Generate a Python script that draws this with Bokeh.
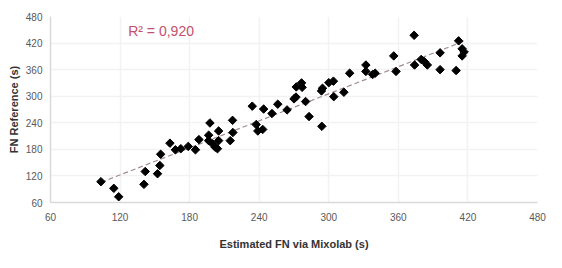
import numpy as np
from bokeh.plotting import figure
from bokeh.models import Range1d, FixedTicker, Label
from bokeh.embed import file_html
from bokeh.resources import INLINE

# Estimated FN via Mixolab (s)
est_fn = [103.5, 114.6, 118.8, 140.6, 141.7, 152.3, 154.3, 155, 163, 167.7,
          172.4, 178.8, 185, 188, 197.5, 196.4, 196.4, 199.7, 202, 204,
          205, 205, 215, 217, 217.3, 234, 237.4, 238.8, 243, 243.8,
          251, 256, 264, 270, 271.7, 272, 276.5, 277, 280, 283,
          294, 293.7, 294.6, 300, 304, 304.3, 313, 318, 332, 332,
          337.8, 340, 356, 358, 373.6, 374, 379.7, 382.5, 385, 396,
          396, 409.8, 412, 415, 416.7, 415]
# FN Reference (s)
ref_fn = [107, 92, 73, 101, 130, 125, 143.6, 169, 194, 179,
          181.5, 186.6, 179, 202, 239.6, 212, 199.7, 192.4, 185, 181.5,
          221.5, 199.7, 199.7, 245.5, 218, 277.5, 236, 221.5, 225, 271,
          261, 282, 269, 294, 298, 321, 330, 320, 288, 254,
          232, 312, 318, 330.5, 334, 299, 309, 352, 370.5, 356,
          349, 352, 391, 356, 437.5, 370.5, 383, 378, 370.5, 398,
          360, 358, 425, 407, 400, 391]
ticks = [60, 120, 180, 240, 300, 360, 420, 480]
r2_text = "R² = 0,920"

FONT = "Liberation Sans"

p = figure(width=546, height=252, output_backend="svg", toolbar_location=None,
           x_range=Range1d(60, 480), y_range=Range1d(60, 480),
           min_border_left=50, min_border_right=9, min_border_top=16, min_border_bottom=44)
p.outline_line_color = None
p.background_fill_color = "white"
p.border_fill_color = "white"

for ax, lab in ((p.xaxis[0], "Estimated FN via Mixolab (s)"), (p.yaxis[0], "FN Reference (s)")):
    ax.ticker = FixedTicker(ticks=ticks)
    ax.axis_label = lab
    ax.axis_label_text_font = FONT
    ax.axis_label_text_font_size = "11px"
    ax.axis_label_text_font_style = "bold"
    ax.axis_label_text_color = "#333333"
    ax.major_label_text_font = FONT
    ax.major_label_text_font_size = "10px"
    ax.major_label_text_color = "#595959"
    ax.major_tick_line_color = None
    ax.minor_tick_line_color = None
    ax.major_tick_out = 0
    ax.major_tick_in = 0
    ax.minor_tick_out = 0
    ax.minor_tick_in = 0
    ax.axis_line_color = "#d9d9d9"
    ax.axis_line_width = 1.5

p.xaxis.major_label_standoff = 10
p.xaxis.axis_label_standoff = 14
p.yaxis.major_label_standoff = 8
p.yaxis.axis_label_standoff = 3

p.xgrid.ticker = FixedTicker(ticks=ticks)
p.ygrid.ticker = FixedTicker(ticks=ticks)
p.xgrid.grid_line_color = "#f2f2f2"
p.ygrid.grid_line_color = "#f2f2f2"
p.xgrid.grid_line_width = 1.5
p.ygrid.grid_line_width = 1.5

# linear trendline from the data
xa = np.array(est_fn)
ya = np.array(ref_fn)
k, b = np.polyfit(xa, ya, 1)
xl = np.array([xa.min(), xa.max()])
p.line(xl, k * xl + b, line_color="#a08c8c", line_width=1.2, line_dash="5 3")

p.scatter(est_fn, ref_fn, marker="square", size=6, angle=np.pi / 4,
          fill_color="black", line_color="black")

p.add_layout(Label(x=127, y=447, text=r2_text, text_font=FONT, text_font_size="14px",
                   text_color="#c4506e", text_baseline="middle"))

open("out.html", "w").write(file_html(p, INLINE))
